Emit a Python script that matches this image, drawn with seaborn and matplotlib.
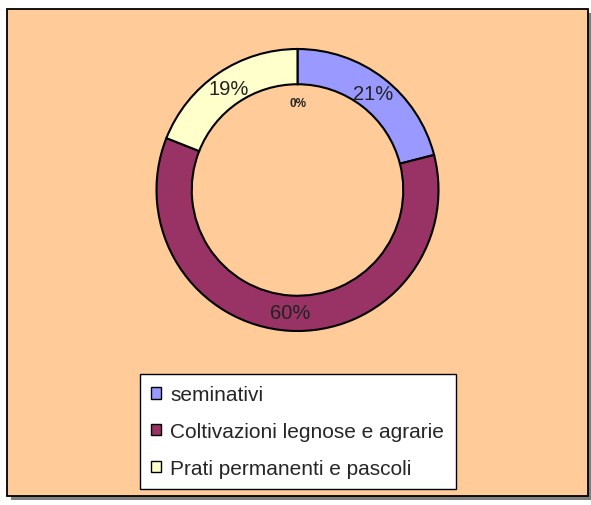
import matplotlib
matplotlib.use("Agg")
import matplotlib.pyplot as plt
import seaborn as sns
from matplotlib.patches import Rectangle

# -------------------------------------------------------------------
# Data
# -------------------------------------------------------------------
categories = ["seminativi", "Coltivazioni legnose e agrarie", "Prati permanenti e pascoli"]
shares = [21, 60, 19]
colors = ["#9999FF", "#993366", "#FFFFCC"]
extra_label = "0%"

W, H = 591, 506

sns.set_style("white")
plt.rcParams["font.family"] = ["Liberation Sans", "DejaVu Sans"]

fig = plt.figure(figsize=(W / 100, H / 100), dpi=100)
fig.patch.set_facecolor("white")


def px_rect(x0, y0, x1, y1, **kw):
    """Rectangle given in pixel coords (top-left origin)."""
    return Rectangle((x0 / W, 1 - y1 / H), (x1 - x0) / W, (y1 - y0) / H,
                     transform=fig.transFigure, **kw)


# shadow + chart area frame
fig.patches.append(px_rect(11, 14, 592, 501, facecolor="#808080", edgecolor="none", zorder=0))
fig.patches.append(px_rect(7, 10, 588, 497, facecolor="#FFCC99", edgecolor="black",
                           linewidth=1.3, zorder=1))

# donut
cx, cy, r = 297.5, 191, 141
ax = fig.add_axes([(cx - r) / W, 1 - (cy + r) / H, 2 * r / W, 2 * r / H], zorder=3)
ax.set_facecolor("none")
wedges, texts, autotexts = ax.pie(
    shares,
    colors=colors,
    startangle=90,
    counterclock=False,
    autopct="%1.0f%%",
    pctdistance=0.87,
    wedgeprops=dict(width=0.25, edgecolor="black", linewidth=1.5),
    textprops=dict(fontsize=14.5, color="#222222"),
)
ax.set_xlim(-1, 1)
ax.set_ylim(-1, 1)
ax.set_aspect("equal")
ax.text(0, 0.62, extra_label, ha="center", va="center", fontsize=8.5, fontweight="bold")
for w in wedges:
    w.set_clip_on(False)

# legend
leg = fig.legend(
    wedges, categories,
    loc="upper left",
    bbox_to_anchor=(140 / W, 1 - 375 / H),
    fontsize=15,
    frameon=True,
    fancybox=False,
    edgecolor="black",
    framealpha=1,
    handlelength=0.45,
    handleheight=0.45,
    handletextpad=0.45,
    labelspacing=0.85,
    borderpad=0.55,
    borderaxespad=0,
)
leg.set_zorder(4)
leg.get_frame().set_linewidth(1.0)
for h in leg.legend_handles:
    h.set_linewidth(1.0)

fig.savefig("out.png", dpi=100)
